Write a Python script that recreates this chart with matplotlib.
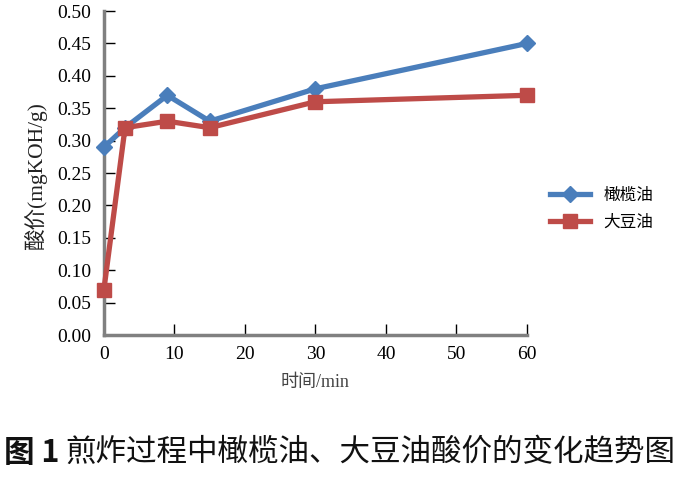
import matplotlib.pyplot as plt

plt.rcParams['font.family'] = ['Liberation Serif', 'Noto Sans CJK SC', 'DejaVu Sans']

minutes = [0, 3, 9, 15, 30, 60]
olive_oil = [0.29, 0.32, 0.37, 0.33, 0.38, 0.45]
soybean_oil = [0.07, 0.32, 0.33, 0.32, 0.36, 0.37]
series_names = ['橄榄油', '大豆油']
x_ticks = [0, 10, 20, 30, 40, 50, 60]
y_ticks = [0.00, 0.05, 0.10, 0.15, 0.20, 0.25, 0.30, 0.35, 0.40, 0.45, 0.50]

fig = plt.figure(figsize=(6.88, 4.8), dpi=100)
ax = fig.add_axes([0.151, 0.302, 0.615, 0.675])

ax.plot(minutes, olive_oil, color='#4a7ebb', lw=3.8, marker='D', ms=8,
        label=series_names[0], zorder=3, clip_on=False)
ax.plot(minutes, soybean_oil, color='#be4b48', lw=3.8, marker='s', ms=10,
        label=series_names[1], zorder=3, clip_on=False)

ax.set_xlim(0, 60)
ax.set_ylim(0, 0.5)
ax.set_xticks(x_ticks)
ax.set_yticks(y_ticks)
ax.set_yticklabels([f'{v:.2f}' for v in y_ticks])
ax.tick_params(direction='in', length=8, width=1, color='black', labelsize=14)
ax.tick_params(axis='y', pad=9)
ax.tick_params(axis='x', pad=8)

for side in ['top', 'right']:
    ax.spines[side].set_visible(False)
for side in ['left', 'bottom']:
    ax.spines[side].set_color('#808080')
    ax.spines[side].set_linewidth(2.5)

ax.set_xlabel('时间/min', fontsize=13, color='#444444')
ax.xaxis.set_label_coords(0.5, -0.12)
ax.set_ylabel('酸价(mgKOH/g)', fontsize=15.5, color='#222222')
ax.yaxis.set_label_coords(-0.135, 0.49)

ax.legend(loc='center left', bbox_to_anchor=(1.02, 0.39), frameon=False,
          handlelength=2.4, labelspacing=0.6,
          prop={'family': ['Noto Sans CJK SC'], 'size': 12})

# caption: "图 1" bold, the rest regular
cap_font = ['Noto Sans CJK SC', 'DejaVu Sans']
head = fig.text(0.006, 0.057, '图 1', fontsize=22, fontweight='bold',
                color='#111111', ha='left', va='center', family=cap_font)
renderer = fig.canvas.get_renderer()
bb = head.get_window_extent(renderer).transformed(fig.transFigure.inverted())
fig.text(bb.x1 + 0.008, 0.057, '煎炸过程中橄榄油、大豆油酸价的变化趋势图',
         fontsize=22, color='#111111', ha='left', va='center', family=cap_font)

fig.savefig('out.png', dpi=100)
